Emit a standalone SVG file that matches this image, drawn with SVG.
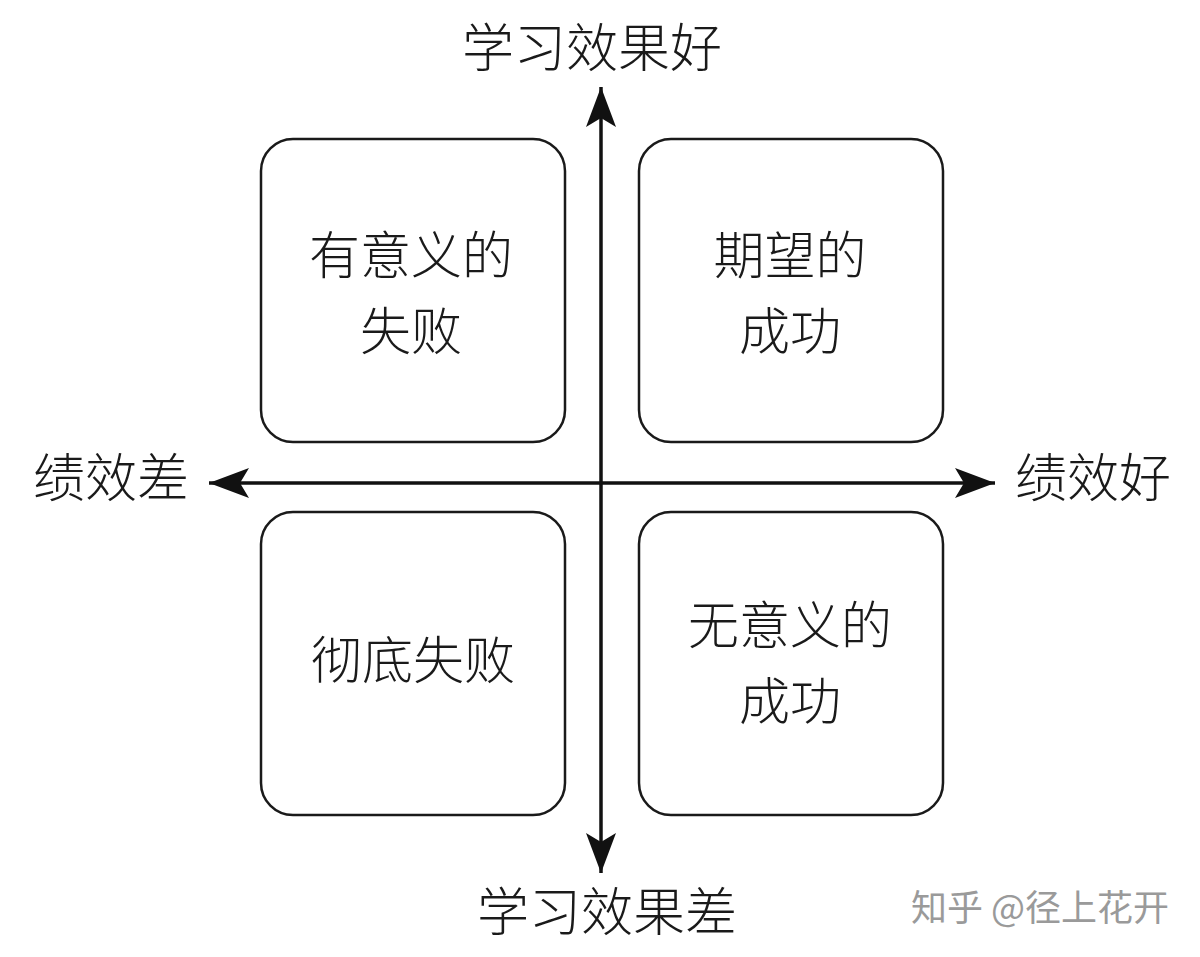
<svg xmlns="http://www.w3.org/2000/svg" width="1200" height="957" viewBox="0 0 1200 957">
<style>
.box{fill:#fff;stroke:#1a1a1a;stroke-width:2.5}
.t{font-family:"Noto Sans CJK SC","Noto Sans",sans-serif;font-size:51px;fill:#1a1a1a;text-anchor:middle;font-weight:300}
.ax{font-size:52px}
.axis{stroke:#111;stroke-width:3.5;fill:none}
.wm{font-family:"Noto Sans CJK SC","Noto Sans",sans-serif;font-size:36px;fill:#9a9a9a}
</style>
<defs>
<marker id="ah" viewBox="0 0 40 30" refX="40" refY="15" markerWidth="40" markerHeight="30" markerUnits="userSpaceOnUse" orient="auto">
<path d="M0,0 L40,15 L0,30 L9,15 Z" fill="#111"/>
</marker>
</defs>
<rect width="1200" height="957" fill="#fff"/>
<g id="connectors">
<line class="axis" x1="601" y1="483" x2="601" y2="87" marker-end="url(#ah)"/>
<line class="axis" x1="601" y1="483" x2="601" y2="873" marker-end="url(#ah)"/>
<line class="axis" x1="601" y1="483" x2="209" y2="483" marker-end="url(#ah)"/>
<line class="axis" x1="601" y1="483" x2="995" y2="483" marker-end="url(#ah)"/>
</g>
<g id="node-tl">
<rect class="box" x="261" y="139" width="304" height="303" rx="32"/>
<text class="t" x="411" y="274">有意义的</text>
<text class="t" x="411" y="350">失败</text>
</g>
<g id="node-tr">
<rect class="box" x="639" y="139" width="304" height="303" rx="32"/>
<text class="t" x="790" y="274">期望的</text>
<text class="t" x="790" y="350">成功</text>
</g>
<g id="node-bl">
<rect class="box" x="261" y="512" width="304" height="303" rx="32"/>
<text class="t" x="413" y="679">彻底失败</text>
</g>
<g id="node-br">
<rect class="box" x="639" y="512" width="304" height="303" rx="32"/>
<text class="t" x="790" y="644">无意义的</text>
<text class="t" x="790" y="720">成功</text>
</g>
<g id="label-top"><text class="t ax" x="592" y="67">学习效果好</text></g>
<g id="label-bottom"><text class="t ax" x="607" y="931">学习效果差</text></g>
<g id="label-left"><text class="t ax" x="111" y="497">绩效差</text></g>
<g id="label-right"><text class="t ax" x="1093" y="497">绩效好</text></g>
<g id="watermark"><text class="wm" x="911" y="921">知乎 @径上花开</text></g>
</svg>
